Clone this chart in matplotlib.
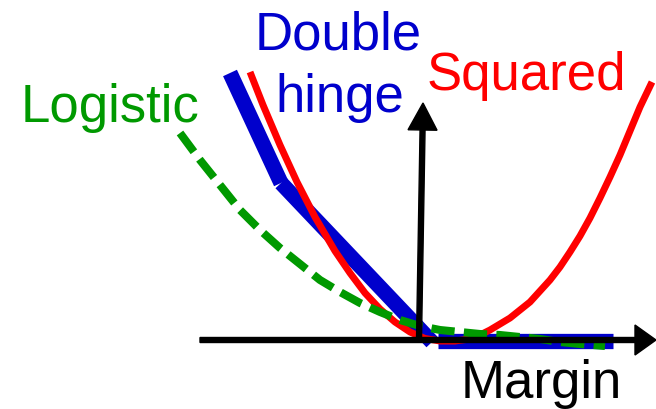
import matplotlib.pyplot as plt

# ------------------ DATA (margin, loss) ------------------
squared_m = [-3.44, -3.18, -2.84, -2.50, -2.14, -1.74, -1.44, -1.14, -0.84, -0.54, -0.24,
             0.06, 0.36, 0.66, 0.96, 1.16, 1.36, 1.56, 1.76, 1.96, 2.16, 2.36, 2.56,
             2.76, 2.96, 3.16, 3.36, 3.56, 3.76, 3.96, 4.16, 4.36, 4.60]
squared_l = [5.36, 4.70, 3.90, 3.16, 2.46, 1.78, 1.34, 0.94, 0.62, 0.36, 0.16,
             0.03, -0.02, -0.02, 0.02, 0.10, 0.20, 0.32, 0.44, 0.60, 0.76, 0.98, 1.20,
             1.46, 1.76, 2.08, 2.44, 2.84, 3.26, 3.70, 4.18, 4.66, 5.16]

logistic_m = [-4.84, -4.44, -4.04, -3.64, -3.24, -2.84, -2.44, -2.04, -1.64, -1.24, -0.84,
              -0.44, -0.04, 0.36, 0.76, 1.16, 1.56, 1.96, 2.36, 2.76, 3.16, 3.66]
logistic_l = [4.14, 3.60, 3.10, 2.60, 2.20, 1.84, 1.52, 1.20, 0.96, 0.74, 0.56,
              0.40, 0.28, 0.20, 0.16, 0.12, 0.10, 0.06, 0.02, -0.04, -0.08, -0.12]

# double hinge: steep piece, slanted piece, flat piece
hinge_m = [[-3.84, -2.82], [-2.82, 0.20], [0.32, 3.82]]
hinge_l = [[5.34, 3.14], [3.14, -0.04], [-0.02, -0.02]]

labels = {"Logistic": "#009900", "Double": "#0000CC", "hinge": "#0000CC",
          "Squared": "#FF0000", "Margin": "black"}

# ------------------ PLOT ------------------
plt.rcParams['font.family'] = ['Liberation Sans', 'DejaVu Sans']

fig = plt.figure(figsize=(6.56, 4.09), dpi=100)
ax = fig.add_axes([0, 0, 1, 1])
ax.set_xlim(-8.44, 4.68)
ax.set_ylim(-1.38, 6.80)
ax.axis('off')

for xs, ys in zip(hinge_m, hinge_l):
    ax.plot(xs, ys, color='#0000CC', lw=11, solid_capstyle='butt', zorder=1)

ax.plot(squared_m, squared_l, color='#FF0000', lw=5, solid_capstyle='butt',
        solid_joinstyle='round', zorder=2)

ax.plot(logistic_m, logistic_l, color='#009900', lw=5.8, dashes=(2.9, 1.15),
        dash_capstyle='butt', zorder=3)

# axes arrows
ax.arrow(-4.44, 0, 9.12, 0, width=0.1, head_width=0.6, head_length=0.42,
         length_includes_head=True, color='black', zorder=4)
ax.arrow(-0.06, 0, 0.08, 4.74, width=0.1, head_width=0.58, head_length=0.54,
         length_includes_head=True, color='black', zorder=4)

fs = 38
ax.text(-6.24, 4.36, "Logistic", color=labels["Logistic"], fontsize=fs, ha='center', va='baseline')
ax.text(-1.67, 5.80, "Double", color=labels["Double"], fontsize=fs, ha='center', va='baseline')
ax.text(-1.65, 4.56, "hinge", color=labels["hinge"], fontsize=fs, ha='center', va='baseline')
ax.text(2.09, 5.00, "Squared", color=labels["Squared"], fontsize=fs, ha='center', va='baseline')
ax.text(2.38, -1.16, "Margin", color=labels["Margin"], fontsize=fs, ha='center', va='baseline')

fig.savefig("out.png", dpi=100)
